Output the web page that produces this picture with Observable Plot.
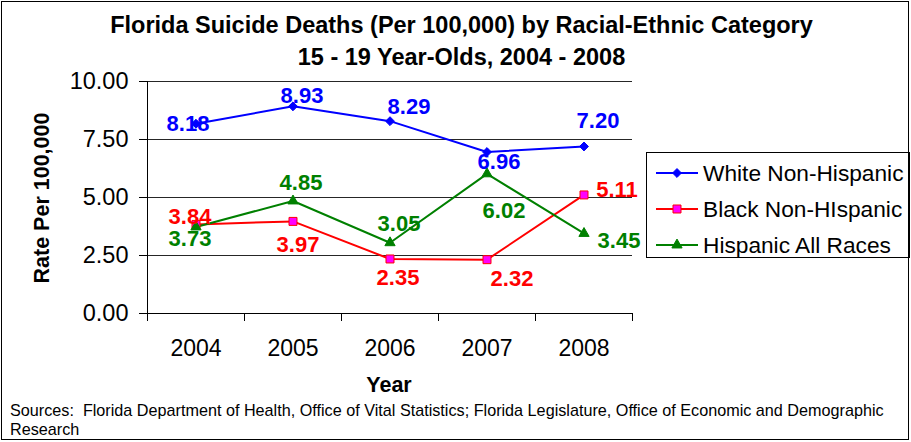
<!DOCTYPE html>
<html>
<head>
<meta charset="utf-8">
<script src="https://cdn.jsdelivr.net/npm/d3@7"></script>
<script src="https://cdn.jsdelivr.net/npm/@observablehq/plot@0.6"></script>
<style>
  html, body { margin: 0; padding: 0; background: #fff; }
  body { font-family: "Liberation Sans", Arial, sans-serif; }
  #wrap { position: relative; width: 911px; height: 442px; overflow: hidden; background: #fff; }
  #wrap > svg { position: absolute; left: 0; top: 0; }
  .abs { position: absolute; white-space: nowrap; color: #000; line-height: normal; }
  .title { font-weight: bold; font-size: 23.5px; width: 911px; left: 0px; text-align: center; }
  #border { position: absolute; left: 1px; top: 1px; width: 906px; height: 437px; border: 1px solid #000; pointer-events: none; }
  #legend { position: absolute; left: 646px; top: 152px; width: 262px; height: 104px; border: 1px solid #000; background: #fff; overflow: hidden; }
  .lrow { position: absolute; left: 8px; height: 30px; display: flex; align-items: center; font-size: 22.7px; }
  .lrow svg { margin-right: 4px; }
</style>
</head>
<body>
<div id="wrap"></div>
<script>
// ---- data ----
const years = [2004, 2005, 2006, 2007, 2008];
const whiteNonHispanic = [8.18, 8.93, 8.29, 6.96, 7.20];
const blackNonHispanic = [3.84, 3.97, 2.35, 2.32, 5.11];
const hispanicAllRaces = [3.73, 4.85, 3.05, 6.02, 3.45];
const seriesNames = ["White Non-Hispanic", "Black Non-HIspanic", "Hispanic All Races"];
const yTicks = [0, 2.5, 5, 7.5, 10];

// ---- styling / layout ----
const seriesStyle = [
  {stroke: "#0000FF", fill: "#0000FF", symbol: "diamond2", r: 4, markStroke: "#0000FF"},
  {stroke: "#FF0000", fill: "#FF00FF", symbol: "square", r: 4.5, markStroke: "#FF0000"},
  {stroke: "#008000", fill: "#008000", symbol: "triangle", r: 3.8, markStroke: "#008000"}
];
// label offsets (pixels) for data labels, per series / per year
const labelOffsets = [
  [[-8, 0], [9, -10], [19, -14], [12, 10], [14, -26]],
  [[-6, -7], [5, 24], [8, 19], [25, 19], [33, -5]],
  [[-6, 12], [8, -18], [9, -19], [17, 37], [35, 7]]
];

const seriesValues = [whiteNonHispanic, blackNonHispanic, hispanicAllRaces];
const rows = [];
seriesValues.forEach((vals, s) => {
  vals.forEach((v, i) => rows.push({series: seriesNames[s], s, i, year: years[i], value: v,
    dx: labelOffsets[s][i][0], dy: labelOffsets[s][i][1]}));
});

const boundaries = [years[0] - 0.5, ...years.map(y => y + 0.5)];

const marks = [
  Plot.gridY({ticks: yTicks, stroke: "#000", strokeOpacity: 0.85}),
  Plot.ruleX([boundaries[0]], {stroke: "#000"}),
  Plot.ruleY([0], {stroke: "#000"}),
  Plot.axisY({ticks: yTicks, tickFormat: d => d.toFixed(2), tickSize: 8, tickPadding: 11, fontSize: 23.5, label: null, stroke: "#000"}),
  Plot.axisX({ticks: boundaries, tickFormat: () => "", tickSize: 8, label: null}),
  Plot.axisX({ticks: years, tickFormat: d => String(d), tickSize: 0, tickPadding: 26, fontSize: 23, label: null})
];
seriesNames.forEach((name, s) => {
  const data = rows.filter(r => r.s === s);
  const st = seriesStyle[s];
  marks.push(Plot.line(data, {x: "year", y: "value", stroke: st.stroke, strokeWidth: 2}));
});
seriesNames.forEach((name, s) => {
  const data = rows.filter(r => r.s === s);
  const st = seriesStyle[s];
  marks.push(Plot.dot(data, {x: "year", y: "value", symbol: () => st.symbol, r: st.r, fill: st.fill, stroke: st.markStroke, strokeWidth: 1}));
});
seriesNames.forEach((name, s) => {
  const st = seriesStyle[s];
  rows.filter(r => r.s === s).forEach(r => {
    marks.push(Plot.text([r], {x: "year", y: "value", text: d => d.value.toFixed(2), dx: r.dx, dy: r.dy,
      fill: st.stroke, fontSize: 22, fontWeight: "bold"}));
  });
});

const chart = Plot.plot({
  width: 911,
  height: 442,
  marginLeft: 147,
  marginRight: 279,
  marginTop: 81,
  marginBottom: 129,
  x: {type: "linear", domain: [boundaries[0], boundaries[boundaries.length - 1]]},
  y: {domain: [0, 10]},
  style: {fontFamily: '"Liberation Sans", Arial, sans-serif', background: "transparent", color: "#000", overflow: "visible"},
  marks
});

const wrap = document.getElementById("wrap");
wrap.appendChild(chart);

function addDiv(cls, text, css) {
  const d = document.createElement("div");
  d.className = "abs " + cls;
  d.textContent = text;
  Object.assign(d.style, css);
  wrap.appendChild(d);
  return d;
}
addDiv("title", "Florida Suicide Deaths (Per 100,000) by Racial-Ethnic Category", {top: "12px", transform: "translateX(6px)"});
addDiv("title", "15 - 19 Year-Olds, 2004 - 2008", {top: "44px", transform: "translateX(6px)"});
// y axis label
addDiv("", "Rate Per 100,000", {fontWeight: "bold", fontSize: "21.5px", left: "42px", top: "198px", transform: "translate(-50%, -50%) rotate(-90deg)"});
// x axis label
addDiv("", "Year", {fontWeight: "bold", fontSize: "21.5px", left: "389px", top: "385px", transform: "translate(-50%, -50%)"});
// sources
addDiv("", "Sources:  Florida Department of Health, Office of Vital Statistics; Florida Legislature, Office of Economic and Demographic", {fontSize: "16.2px", left: "10px", top: "401px", whiteSpace: "pre"});
addDiv("", "Research", {fontSize: "16.2px", left: "10px", top: "420px"});

// legend
const legend = document.createElement("div");
legend.id = "legend";
wrap.appendChild(legend);
seriesNames.forEach((name, s) => {
  const st = seriesStyle[s];
  const row = document.createElement("div");
  row.className = "lrow";
  row.style.top = (5 + s * 36) + "px";
  const ns = "http://www.w3.org/2000/svg";
  const svg = document.createElementNS(ns, "svg");
  svg.setAttribute("width", 44); svg.setAttribute("height", 20);
  const line = document.createElementNS(ns, "line");
  line.setAttribute("x1", 1); line.setAttribute("x2", 43); line.setAttribute("y1", 10); line.setAttribute("y2", 10);
  line.setAttribute("stroke", st.stroke); line.setAttribute("stroke-width", 2);
  svg.appendChild(line);
  const symMap = {diamond2: d3.symbolDiamond2, square: d3.symbolSquare, triangle: d3.symbolTriangle};
  const p = document.createElementNS(ns, "path");
  p.setAttribute("d", d3.symbol(symMap[st.symbol], st.r * st.r * Math.PI)());
  p.setAttribute("transform", "translate(22,10)");
  p.setAttribute("fill", st.fill); p.setAttribute("stroke", st.markStroke);
  svg.appendChild(p);
  row.appendChild(svg);
  const t = document.createElement("span");
  t.textContent = name;
  row.appendChild(t);
  legend.appendChild(row);
});

const border = document.createElement("div");
border.id = "border";
wrap.appendChild(border);
</script>
</body>
</html>
